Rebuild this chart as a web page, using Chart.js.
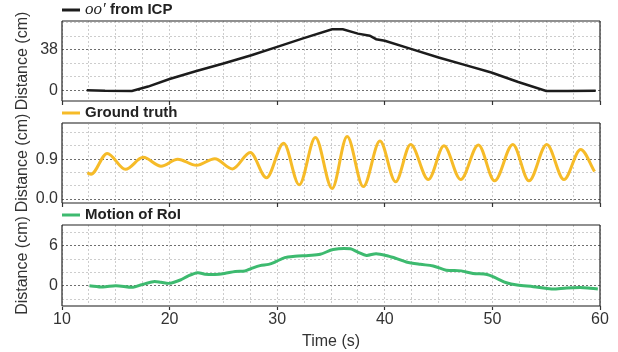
<!DOCTYPE html>
<html>
<head>
<meta charset="utf-8">
<script src="https://cdn.jsdelivr.net/npm/chart.js@4.4.1/dist/chart.umd.min.js"></script>
<style>
  body { margin: 0; background: #fff; }
  #wrap { position: relative; width: 618px; height: 352px; }
  canvas { position: absolute; left: 0; }
</style>
</head>
<body>
<div id="wrap">
  <canvas id="icp" width="618" height="110" style="top:0px"></canvas>
  <canvas id="truth" width="618" height="110" style="top:102px"></canvas>
  <canvas id="roi" width="618" height="148" style="top:204px"></canvas>
</div>
<script>
// time axis
const xGridTicks = [10, 12.5, 15, 17.5, 20, 22.5, 25, 27.5, 30, 32.5, 35, 37.5, 40,
  42.5, 45, 47.5, 50, 52.5, 55, 57.5, 60];
const xTickLabels = [10, 20, 30, 40, 50, 60];

// oo' from ICP
const icpTime = [12.3, 14, 16.5, 18, 20, 22.5, 25, 27.6, 30, 32.4, 35.1, 36.1, 37.5,
  38.6, 39.2, 40, 42.5, 45, 47.5, 49.9, 52.4, 55, 57, 59.6];
const icpValue = [0, -0.5, -0.6, 3.5, 10.6, 18, 25, 32.8, 40.6, 48.5, 57, 57, 53,
  51, 47.8, 46.3, 38.5, 30.7, 23.5, 16.6, 7.8, -0.6, -0.6, -0.5];
const icpTicks = [0, 12.67, 25.33, 38, 50.67, 63.33];
const icpLabels = [0, 38];

// ground truth
const truthTime = [12.35, 12.7, 14.2, 15.9, 17.55, 19.2, 20.75, 22.5, 24.2, 25.85,
  27.5, 29.0, 30.6, 32.05, 33.55, 35.1, 36.5, 38.0, 39.55, 41.0, 42.4, 44.05, 45.5,
  47.05, 48.7, 50.2, 51.9, 53.4, 55.05, 56.65, 58.2, 59.5];
const truthValue = [0.59, 0.56, 1.03, 0.67, 0.94, 0.74, 0.9, 0.76, 0.91, 0.68,
  1.05, 0.48, 1.26, 0.32, 1.39, 0.24, 1.41, 0.28, 1.31, 0.39, 1.23, 0.44, 1.2,
  0.44, 1.22, 0.41, 1.23, 0.41, 1.23, 0.44, 1.12, 0.62];
const truthTicks = [0, 0.3, 0.6, 0.9, 1.2, 1.5];
const truthLabels = [0, 0.9];

// motion of RoI
const roiTime = [12.55, 13.8, 15, 16.6, 17.3, 18.5, 19.2, 20, 21, 21.7, 22.6, 23.3,
  24.2, 25.1, 26.1, 27, 27.6, 28.4, 29.2, 29.8, 30.7, 31.65, 32.9, 34, 35.2, 36.8,
  37.5, 38.3, 39.2, 40.3, 41.1, 42, 43.3, 44.5, 45.7, 47.1, 48.2, 49.5, 50.4, 51.3,
  52.3, 53.8, 55.5, 56.9, 58.5, 59.8];
const roiValue = [0, -0.2, 0, -0.25, 0.1, 0.6, 0.5, 0.35, 0.85, 1.44, 1.93, 1.73,
  1.68, 1.83, 2.13, 2.2, 2.57, 3.0, 3.2, 3.55, 4.2, 4.4, 4.54, 4.7, 5.43, 5.53,
  5.03, 4.54, 4.8, 4.44, 4.05, 3.55, 3.2, 2.96, 2.32, 2.22, 1.83, 1.68, 1.09, 0.44,
  0.1, -0.15, -0.49, -0.34, -0.3, -0.49];
const roiTicks = [-2, 0, 2, 4, 6, 8];
const roiLabels = [0, 6];

const sansFamily = '"Liberation Sans", Arial, Helvetica, sans-serif';
const textColor = "#333";
Chart.defaults.font.family = sansFamily;

// legend line + bold label drawn above the plot area, left aligned with it
const panelLegend = {
  id: "panelLegend",
  afterDraw(chart, args, opts) {
    const ctx = chart.ctx;
    const left = chart.chartArea.left;
    const y = opts.y;
    ctx.save();
    ctx.strokeStyle = chart.data.datasets[0].borderColor;
    ctx.lineWidth = 3;
    ctx.beginPath();
    ctx.moveTo(left, y);
    ctx.lineTo(left + 18, y);
    ctx.stroke();
    ctx.fillStyle = "#222";
    ctx.textBaseline = "middle";
    let x = left + 23;
    opts.parts.forEach(p => {
      ctx.font = p.font;
      ctx.fillText(p.text, x, y);
      x += ctx.measureText(p.text).width;
    });
    ctx.restore();
  }
};

// box around the plot area
const panelFrame = {
  id: "panelFrame",
  afterDatasetsDraw(chart, args, opts) {
    const {left, right, top, bottom} = chart.chartArea;
    const ctx = chart.ctx;
    function side(x1, y1, x2, y2, s) {
      ctx.strokeStyle = s[0];
      ctx.lineWidth = s[1];
      ctx.beginPath();
      ctx.moveTo(x1, y1);
      ctx.lineTo(x2, y2);
      ctx.stroke();
    }
    ctx.save();
    side(left, top, right, top, opts.top);
    side(left, bottom, right, bottom, opts.bottom);
    side(left, top, left, bottom, opts.left);
    side(right, top, right, bottom, opts.right);
    ctx.restore();
  }
};

const boldFont = "bold 15px " + sansFamily;
const dark = ["#222", 1.2];
const grey = ["#8a8a8a", 2];

function makePanel(canvasId, cfg) {
  const points = cfg.times.map((t, i) => ({x: t, y: cfg.values[i]}));
  return new Chart(document.getElementById(canvasId), {
    type: "line",
    data: {
      datasets: [{
        label: cfg.label,
        data: points,
        borderColor: cfg.color,
        borderWidth: cfg.lineWidth,
        pointRadius: 0,
        fill: false,
        cubicInterpolationMode: cfg.monotone ? "monotone" : "default",
        tension: cfg.tension
      }]
    },
    plugins: [panelLegend, panelFrame],
    options: {
      responsive: false,
      animation: false,
      events: [],
      layout: {
        padding: {left: 0, top: 21, right: 18, bottom: cfg.showX ? 0 : 5}
      },
      plugins: {
        legend: {display: false},
        tooltip: {enabled: false},
        panelLegend: {y: cfg.legendY, parts: cfg.legendParts},
        panelFrame: cfg.frame
      },
      scales: {
        x: {
          type: "linear",
          min: 10,
          max: 60,
          afterBuildTicks: scale => {
            scale.ticks = xGridTicks.map(v => ({value: v}));
          },
          afterFit: scale => {
            scale.paddingLeft = 0;
            scale.paddingRight = 0;
            scale.height = cfg.showX ? 46 : 4;
          },
          ticks: {
            display: cfg.showX,
            autoSkip: false,
            maxRotation: 0,
            padding: 0,
            color: textColor,
            font: {size: 16},
            callback: v => xTickLabels.includes(v) ? String(v) : ""
          },
          grid: {
            color: "#cdcdcd",
            lineWidth: 1,
            tickLength: 4,
            tickWidth: 1.2,
            tickColor: c => (c.tick && c.tick.value % 10 === 0) ? "#333" : "rgba(0,0,0,0)"
          },
          border: {display: false, dash: [2, 2]},
          title: {
            display: cfg.showX,
            text: "Time (s)",
            color: textColor,
            font: {size: 16},
            padding: {top: 0, bottom: 1}
          }
        },
        y: {
          min: cfg.yMin,
          max: cfg.yMax,
          afterBuildTicks: scale => {
            scale.ticks = cfg.yTicks.map(v => ({value: v}));
          },
          afterFit: scale => {
            scale.width = 62;
            scale.paddingTop = 0;
            scale.paddingBottom = 0;
          },
          ticks: {
            autoSkip: false,
            padding: 4,
            color: textColor,
            font: {size: 16},
            callback: v => cfg.yLabels.includes(v) ? v.toFixed(cfg.digits) : ""
          },
          grid: {
            drawTicks: false,
            lineWidth: 1,
            color: c => (c.tick && cfg.yLabels.includes(c.tick.value)) ? "#6e6e6e" : "#cdcdcd"
          },
          border: {display: false, dash: [2, 2]},
          title: {
            display: true,
            text: "Distance (cm)",
            color: textColor,
            font: {size: 16},
            padding: {top: 13, bottom: 0}
          }
        }
      }
    }
  });
}

makePanel("icp", {
  label: "oo′ from ICP",
  times: icpTime,
  values: icpValue,
  color: "#1c1c1c",
  lineWidth: 2.5,
  tension: 0,
  yMin: -10,
  yMax: 64.8,
  yTicks: icpTicks,
  yLabels: icpLabels,
  digits: 0,
  showX: false,
  legendY: 10,
  legendParts: [
    {text: "oo′", font: 'italic 17px "Liberation Serif", "DejaVu Serif", serif'},
    {text: " from ICP", font: boldFont}
  ],
  frame: {top: dark, bottom: dark, left: dark, right: dark}
});

makePanel("truth", {
  label: "Ground truth",
  times: truthTime,
  values: truthValue,
  color: "#f6bb28",
  lineWidth: 3,
  monotone: true,
  tension: 0.4,
  yMin: -0.09,
  yMax: 1.716,
  yTicks: truthTicks,
  yLabels: truthLabels,
  digits: 1,
  showX: false,
  legendY: 11,
  legendParts: [{text: "Ground truth", font: boldFont}],
  frame: {top: grey, bottom: dark, left: dark, right: dark}
});

makePanel("roi", {
  label: "Motion of RoI",
  times: roiTime,
  values: roiValue,
  color: "#3dba6f",
  lineWidth: 3,
  tension: 0.3,
  yMin: -3.05,
  yMax: 9.1,
  yTicks: roiTicks,
  yLabels: roiLabels,
  digits: 0,
  showX: true,
  legendY: 11,
  legendParts: [{text: "Motion of RoI", font: boldFont}],
  frame: {top: dark, bottom: grey, left: dark, right: dark}
});
</script>
</body>
</html>
